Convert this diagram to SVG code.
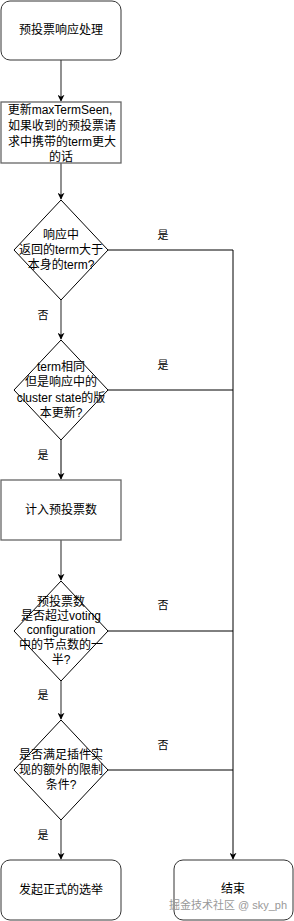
<svg xmlns="http://www.w3.org/2000/svg" width="294" height="921" viewBox="0 0 294 921">
<style>
.box{fill:#fff;stroke:#333;stroke-width:1}
.gbox{fill:#fff;stroke:#666;stroke-width:1.3}
.dia{fill:#fff;stroke:#000;stroke-width:1}
.t{font-family:"Liberation Sans","Noto Sans CJK SC",sans-serif;font-size:12px;fill:#000;text-anchor:middle;dominant-baseline:central}
.lbl{font-family:"Liberation Sans","Noto Sans CJK SC",sans-serif;font-size:11px;fill:#000;text-anchor:middle;dominant-baseline:central}
.gl{fill:none;stroke:#555;stroke-width:1.3}
.bl{fill:none;stroke:#000;stroke-width:1}
.wm{font-family:"Liberation Sans","Noto Sans CJK SC",sans-serif;font-size:11px;fill:#999;text-anchor:middle;dominant-baseline:central}
</style>
<defs>
<marker id="arr" viewBox="0 0 10 10" refX="9" refY="5" markerWidth="7" markerHeight="7" markerUnits="userSpaceOnUse" orient="auto">
<path d="M0,0 L10,5 L0,10 L3,5 Z" fill="#000"/>
</marker>
</defs>
<rect width="294" height="921" fill="#fff"/>
<g id="connectors">
<path class="gl" d="M61,60 V101" marker-end="url(#arr)"/>
<path class="gl" d="M61,163 V199" marker-end="url(#arr)"/>
<path class="gl" d="M61,300 V339" marker-end="url(#arr)"/>
<path class="bl" d="M61,440 V479" marker-end="url(#arr)"/>
<path class="gl" d="M61,540 V580" marker-end="url(#arr)"/>
<path class="gl" d="M61,681 V719" marker-end="url(#arr)"/>
<path class="gl" d="M61,820 V859" marker-end="url(#arr)"/>
<path class="bl" d="M108,250 H233 V859" marker-end="url(#arr)"/>
<path class="bl" d="M108,390 H233"/>
<path class="bl" d="M108,631 H233"/>
<path class="bl" d="M108,770 H233"/>
<text class="lbl" x="163" y="235">是</text>
<text class="lbl" x="43" y="315">否</text>
<text class="lbl" x="163" y="365">是</text>
<text class="lbl" x="43" y="455">是</text>
<text class="lbl" x="163" y="605">否</text>
<text class="lbl" x="43" y="695">是</text>
<text class="lbl" x="163" y="745">否</text>
<text class="lbl" x="43" y="835">是</text>
</g>
<g id="start">
<rect class="box" x="1" y="1" width="120" height="59" rx="9"/>
<text class="t" x="61" y="30">预投票响应处理</text>
</g>
<g id="update">
<rect class="gbox" x="1" y="102" width="120" height="61"/>
<text class="t" x="60" y="110">更新maxTermSeen,</text>
<text class="t" x="62" y="126">如果收到的预投票请</text>
<text class="t" x="62" y="142">求中携带的term更大</text>
<text class="t" x="61" y="157">的话</text>
</g>
<g id="d1">
<polygon class="dia" points="61,200 108,250 61,300 14,250"/>
<text class="t" x="61" y="235">响应中</text>
<text class="t" x="61" y="250">返回的term大于</text>
<text class="t" x="61" y="265">本身的term?</text>
</g>
<g id="d2">
<polygon class="dia" points="61,340 108,390 61,440 14,390"/>
<text class="t" x="61" y="367">term相同</text>
<text class="t" x="61" y="382">但是响应中的</text>
<text class="t" x="61" y="398">cluster state的版</text>
<text class="t" x="61" y="413">本更新?</text>
</g>
<g id="count">
<rect class="gbox" x="1" y="480" width="120" height="60"/>
<text class="t" x="61" y="510">计入预投票数</text>
</g>
<g id="d3">
<polygon class="dia" points="61,581 108,631 61,681 14,631"/>
<text class="t" x="61" y="602">预投票数</text>
<text class="t" x="61" y="616">是否超过voting</text>
<text class="t" x="61" y="630">configuration</text>
<text class="t" x="61" y="645">中的节点数的一</text>
<text class="t" x="61" y="660">半?</text>
</g>
<g id="d4">
<polygon class="dia" points="61,720 108,770 61,820 14,770"/>
<text class="t" x="61" y="755">是否满足插件实</text>
<text class="t" x="61" y="770">现的额外的限制</text>
<text class="t" x="61" y="785">条件?</text>
</g>
<g id="elect">
<rect class="box" x="1" y="860" width="120" height="60" rx="9"/>
<text class="t" x="61" y="890">发起正式的选举</text>
</g>
<g id="end">
<rect class="box" x="174" y="860" width="119" height="60" rx="9"/>
<text class="t" x="233" y="889">结束</text>
</g>
<text class="wm" x="228" y="905">掘金技术社区 @ sky_ph</text>
</svg>
